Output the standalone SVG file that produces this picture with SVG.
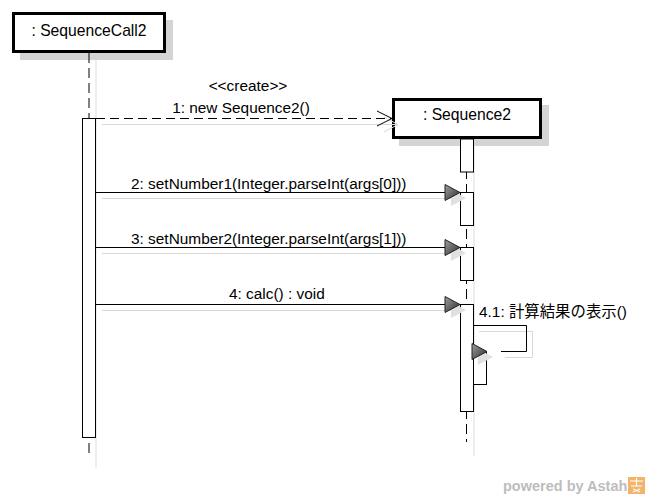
<svg xmlns="http://www.w3.org/2000/svg" xmlns:xlink="http://www.w3.org/1999/xlink" width="648" height="498" viewBox="0 0 648 498">
<style>
.txt{font-family:"Liberation Sans",Arial,"Noto Sans CJK JP",sans-serif;font-size:15.4px;fill:#000}
.big{font-size:15.7px}
.box{fill:#fff;stroke:#000;stroke-width:3}
.boxsh{fill:#d4d4d4;stroke:none}
.life{stroke:#000;stroke-width:1;stroke-dasharray:10 5;fill:none}
.lifesh{stroke:#dadada;stroke-width:1;fill:none}
.act{fill:#fff;stroke:#000;stroke-width:1}
.msg{stroke:#000;stroke-width:1;fill:none}
.msgsh{stroke:#d8d8d8;stroke-width:1;fill:none}
.dash{stroke-dasharray:9 5}
.wm{font-family:"Liberation Sans",Arial,sans-serif;font-size:14.5px;font-weight:bold;fill:#bdbdbd}
</style>
<defs>
<linearGradient id="g" x1="0" y1="0" x2="1" y2="1">
<stop offset="0" stop-color="#a0a0a0"/>
<stop offset="1" stop-color="#2a2a2a"/>
</linearGradient>
<polygon id="tri" points="0,0 -15,-8 -15,8" fill="url(#g)" stroke="#222" stroke-width="1"/>
<polygon id="trish" points="0,0 -15,-8 -15,8" fill="#e0e0e0" stroke="none"/>
</defs>
<rect width="648" height="498" fill="#fff"/>

<g id="node-SequenceCall2">
<rect class="boxsh" x="20" y="20" width="153" height="40"/>
<line class="lifesh" x1="96" y1="60" x2="96" y2="468"/>
<line class="life" x1="89" y1="53" x2="89" y2="455"/>
<rect class="act" x="82.5" y="118.5" width="13" height="319"/>
<rect class="box" x="13.5" y="13.5" width="151" height="38"/>
<text class="txt big" x="89" y="36" text-anchor="middle">: SequenceCall2</text>
</g>

<g id="node-Sequence2">
<rect class="boxsh" x="399" y="105" width="150" height="41"/>
<line class="lifesh" x1="474" y1="146" x2="474" y2="456"/>
<line class="life" x1="466.5" y1="139" x2="466.5" y2="442"/>
<rect class="act" x="460.5" y="139" width="13" height="33"/>
<rect class="act" x="460.5" y="192.5" width="13" height="33"/>
<rect class="act" x="460.5" y="247.5" width="13" height="33"/>
<rect class="act" x="460.5" y="304.5" width="13" height="107"/>
<rect class="act" x="473.5" y="351.5" width="13" height="33"/>
<rect class="box" x="393.5" y="99.5" width="147" height="38"/>
<text class="txt big" x="467" y="119.5" text-anchor="middle">: Sequence2</text>
</g>

<g id="connectors">
<!-- 1: create -->
<line class="msgsh" x1="102" y1="124.5" x2="397" y2="124.5"/>
<path class="msgsh" d="M384,117 L398,124.5 L384,132"/>
<line class="msg dash" x1="96" y1="118.5" x2="391" y2="118.5"/>
<path class="msg" d="M377,111 L392,118.5 L377,126"/>
<text class="txt" x="248" y="91" text-anchor="middle">&lt;&lt;create&gt;&gt;</text>
<text class="txt" x="241" y="113" text-anchor="middle">1: new Sequence2()</text>

<!-- 2 -->
<line class="msgsh" x1="102" y1="198.5" x2="452" y2="198.5"/>
<use xlink:href="#trish" x="466" y="198"/>
<line class="msg" x1="96" y1="192.5" x2="446" y2="192.5"/>
<use xlink:href="#tri" x="460" y="192.5"/>
<text class="txt" x="131" y="189">2: setNumber1(Integer.parseInt(args[0]))</text>

<!-- 3 -->
<line class="msgsh" x1="102" y1="253.5" x2="452" y2="253.5"/>
<use xlink:href="#trish" x="466" y="253"/>
<line class="msg" x1="96" y1="247.5" x2="446" y2="247.5"/>
<use xlink:href="#tri" x="460" y="247.5"/>
<text class="txt" x="131" y="244">3: setNumber2(Integer.parseInt(args[1]))</text>

<!-- 4 -->
<line class="msgsh" x1="102" y1="310.5" x2="452" y2="310.5"/>
<use xlink:href="#trish" x="466" y="310"/>
<line class="msg" x1="96" y1="304.5" x2="446" y2="304.5"/>
<use xlink:href="#tri" x="460" y="304.5"/>
<text class="txt" x="229" y="299">4: calc() : void</text>

<!-- 4.1 self -->
<path class="msgsh" d="M479,331.5 L532.5,331.5 L532.5,357.5 L505,357.5"/>
<use xlink:href="#trish" x="493" y="357"/>
<path class="msg" d="M473.5,325.5 L526.5,325.5 L526.5,351.5 L501,351.5"/>
<use xlink:href="#tri" x="487" y="351.5"/>
<text class="txt" x="479" y="317">4.1: 計算結果の表示()</text>
</g>

<g id="watermark">
<text class="wm" x="503" y="491">powered by Astah</text>
<rect x="628" y="477" width="17" height="17" fill="#f3b46a"/>
<path d="M630,481 L643,481 M636.5,478 L636.5,486 M631,486 L642,486 M633,489 L640,492 M640,489 L633,492" stroke="#fff" stroke-width="1.2" fill="none"/>
</g>
</svg>
